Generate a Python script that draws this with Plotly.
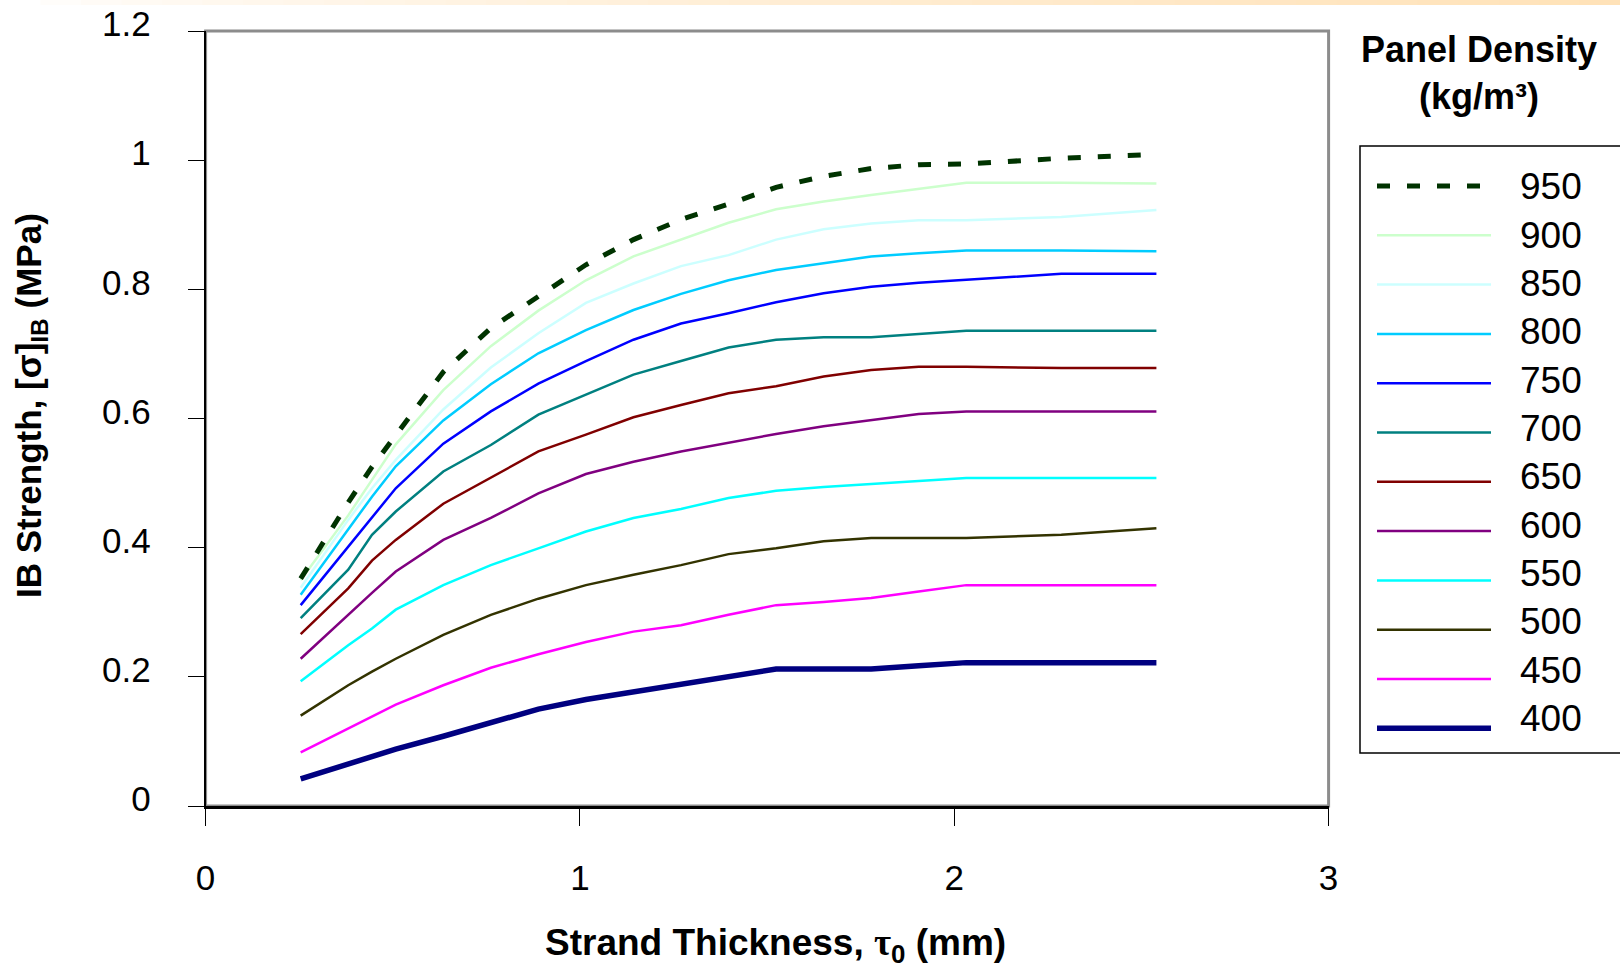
import plotly.graph_objects as go

# Strand thickness (mm) at which IB strength was evaluated
thickness_mm = [0.254, 0.381, 0.4445, 0.508, 0.635, 0.762, 0.889, 1.016, 1.143,
                1.27, 1.397, 1.524, 1.651, 1.778, 1.905, 2.032, 2.286, 2.54]

# Panel densities (kg/m3), legend order
densities = [950, 900, 850, 800, 750, 700, 650, 600, 550, 500, 450, 400]

# IB strength (MPa) for each panel density
s950 = [0.352, 0.470, 0.525, 0.575, 0.672, 0.740, 0.790, 0.838, 0.877, 0.908, 0.932, 0.958, 0.975, 0.987, 0.993, 0.994, 1.003, 1.009]
s900 = [0.350, 0.450, 0.505, 0.560, 0.644, 0.712, 0.767, 0.814, 0.851, 0.877, 0.903, 0.924, 0.936, 0.946, 0.955, 0.965, 0.965, 0.964]
s850 = [0.338, 0.443, 0.492, 0.536, 0.614, 0.679, 0.732, 0.779, 0.809, 0.836, 0.853, 0.877, 0.893, 0.902, 0.907, 0.907, 0.912, 0.923]
s800 = [0.327, 0.428, 0.479, 0.526, 0.597, 0.653, 0.701, 0.737, 0.768, 0.793, 0.814, 0.830, 0.840, 0.851, 0.856, 0.860, 0.860, 0.859]
s750 = [0.311, 0.402, 0.448, 0.492, 0.561, 0.611, 0.654, 0.689, 0.722, 0.747, 0.763, 0.780, 0.794, 0.804, 0.810, 0.815, 0.824, 0.824]
s700 = [0.291, 0.366, 0.420, 0.456, 0.518, 0.559, 0.606, 0.637, 0.668, 0.689, 0.710, 0.722, 0.726, 0.726, 0.731, 0.736, 0.736, 0.736]
s650 = [0.266, 0.337, 0.380, 0.412, 0.468, 0.508, 0.549, 0.575, 0.602, 0.621, 0.639, 0.650, 0.665, 0.675, 0.680, 0.680, 0.678, 0.678]
s600 = [0.228, 0.297, 0.330, 0.363, 0.412, 0.446, 0.484, 0.514, 0.533, 0.549, 0.563, 0.576, 0.588, 0.597, 0.607, 0.611, 0.611, 0.611]
s550 = [0.193, 0.249, 0.275, 0.304, 0.342, 0.373, 0.399, 0.425, 0.446, 0.460, 0.477, 0.488, 0.494, 0.499, 0.503, 0.508, 0.508, 0.508]
s500 = [0.140, 0.187, 0.208, 0.228, 0.265, 0.296, 0.321, 0.342, 0.358, 0.373, 0.390, 0.399, 0.410, 0.415, 0.415, 0.415, 0.420, 0.430]
s450 = [0.083, 0.120, 0.139, 0.157, 0.187, 0.214, 0.235, 0.254, 0.270, 0.280, 0.296, 0.311, 0.316, 0.322, 0.332, 0.342, 0.342, 0.342]
s400 = [0.042, 0.065, 0.077, 0.088, 0.108, 0.130, 0.150, 0.165, 0.177, 0.187, 0.201, 0.212, 0.212, 0.212, 0.217, 0.222, 0.222, 0.222]

strengths = [s950, s900, s850, s800, s750, s700, s650, s600, s550, s500, s450, s400]

x_ticks = [0, 1, 2, 3]
y_ticks = [0, 0.2, 0.4, 0.6, 0.8, 1.0, 1.2]
y_tick_text = ["0", "0.2", "0.4", "0.6", "0.8", "1", "1.2"]

# Line styles per density
styles = {
    950: dict(color="#003300", width=5, dash="13px,17px"),
    900: dict(color="#CCFFCC", width=2.5),
    850: dict(color="#CCFFFF", width=2.5),
    800: dict(color="#00CCFF", width=2.5),
    750: dict(color="#0000FF", width=2.5),
    700: dict(color="#008080", width=2.5),
    650: dict(color="#800000", width=2.5),
    600: dict(color="#800080", width=2.5),
    550: dict(color="#00FFFF", width=2.5),
    500: dict(color="#333300", width=2.5),
    450: dict(color="#FF00FF", width=2.5),
    400: dict(color="#000080", width=5.5),
}

W, H = 1620, 969
FONT = "Liberation Sans, Arial, sans-serif"


def px_x(p):
    return p / W


def px_y(p):
    return 1 - p / H


# plot area in pixels
PL, PR, PT, PB = 205.6, 1328.6, 31.0, 806.0

# legend key rows (pixels): first row centre and row pitch for keys / labels
KEY_Y0, KEY_STEP = 186.0, 49.3
LBL_Y0, LBL_STEP = 187.0, 48.3

fig = go.Figure()

# main curves, drawn lightest-density first so the 950 curve sits on top
for d, s in reversed(list(zip(densities, strengths))):
    fig.add_trace(go.Scatter(
        x=thickness_mm, y=s, mode="lines", name=str(d),
        line=styles[d], showlegend=False, xaxis="x", yaxis="y",
    ))

# legend keys on their own small axes
for i, d in enumerate(densities):
    fig.add_trace(go.Scatter(
        x=[0, 1], y=[i, i], mode="lines", line=styles[d],
        showlegend=False, xaxis="x2", yaxis="y2", hoverinfo="skip",
    ))

annotations = []
for i, d in enumerate(densities):
    annotations.append(dict(
        x=px_x(1518), xref="paper", y=px_y(LBL_Y0 + i * LBL_STEP), yref="paper",
        text=str(d), showarrow=False, xanchor="left", yanchor="middle",
        font=dict(family=FONT, size=37, color="black"),
    ))

# legend heading
annotations.append(dict(
    x=px_x(1479), y=px_y(73), xref="paper", yref="paper",
    text="<b>Panel Density<br>(kg/m³)</b>", showarrow=False,
    xanchor="center", yanchor="middle", align="center",
    font=dict(family=FONT, size=36, color="black"),
))

# axis titles
annotations.append(dict(
    x=px_x(31), y=px_y(406), xref="paper", yref="paper",
    text="<b>IB Strength, [σ]<sub>IB</sub> (MPa)</b>", textangle=-90,
    showarrow=False, xanchor="center", yanchor="middle",
    font=dict(family=FONT, size=35, color="black"),
))
annotations.append(dict(
    x=px_x(775), y=px_y(945), xref="paper", yref="paper",
    text="<b>Strand Thickness, <span style=\"font-family:'Liberation Serif'\">τ</span><sub>0</sub> (mm)</b>",
    showarrow=False, xanchor="center", yanchor="middle",
    font=dict(family=FONT, size=37, color="black"),
))

shapes = []
# thin warm band along the top edge
n_seg = 40
c0, c1 = (255, 255, 255), (255, 226, 184)
for k in range(n_seg):
    t = k / (n_seg - 1)
    col = tuple(round(c0[j] + (c1[j] - c0[j]) * t ** 0.7) for j in range(3))
    shapes.append(dict(
        type="rect", xref="paper", yref="paper",
        x0=k / n_seg, x1=(k + 1) / n_seg + 0.002, y0=px_y(5), y1=1,
        fillcolor="rgb(%d,%d,%d)" % col, line=dict(width=0), layer="below",
    ))

# grey plot-area frame
shapes.append(dict(
    type="rect", xref="paper", yref="paper",
    x0=px_x(PL), x1=px_x(PR), y0=px_y(PB), y1=px_y(PT),
    line=dict(color="#8C8C8C", width=3), fillcolor="rgba(0,0,0,0)", layer="below",
))
# legend box
shapes.append(dict(
    type="rect", xref="paper", yref="paper",
    x0=px_x(1360), x1=px_x(1630), y0=px_y(753), y1=px_y(146),
    line=dict(color="black", width=1.5), fillcolor="white", layer="below",
))

fig.update_layout(
    width=W, height=H,
    margin=dict(l=0, r=0, t=0, b=0, autoexpand=False),
    paper_bgcolor="white", plot_bgcolor="rgba(0,0,0,0)",
    showlegend=False,
    xaxis=dict(
        domain=[px_x(PL), px_x(PR)], range=[0, 3],
        tickvals=x_ticks, ticktext=[str(v) for v in x_ticks],
        ticks="outside", ticklen=17, tickwidth=1.3, tickcolor="black",
        showline=True, linecolor="black", linewidth=2.5,
        showgrid=False, zeroline=False, ticklabelstandoff=22,
        tickfont=dict(family=FONT, size=35, color="black"),
        fixedrange=True, automargin=False,
    ),
    yaxis=dict(
        domain=[px_y(PB), px_y(PT)], range=[0, 1.2],
        tickvals=y_ticks, ticktext=y_tick_text,
        ticks="outside", ticklen=16, tickwidth=1.3, tickcolor="black",
        showline=True, linecolor="black", linewidth=2,
        showgrid=False, zeroline=False, ticklabelstandoff=30,
        ticklabelshift=-7,
        tickfont=dict(family=FONT, size=35, color="black"),
        fixedrange=True, automargin=False,
    ),
    xaxis2=dict(
        domain=[px_x(1377), px_x(1491)], range=[0, 1], anchor="y2",
        visible=False, fixedrange=True, automargin=False,
    ),
    yaxis2=dict(
        domain=[px_y(KEY_Y0 + 11 * KEY_STEP + KEY_STEP / 2), px_y(KEY_Y0 - KEY_STEP / 2)],
        range=[11.5, -0.5], anchor="x2", visible=False, fixedrange=True,
        automargin=False,
    ),
    shapes=shapes,
    annotations=annotations,
)

fig.write_html("out.html")
